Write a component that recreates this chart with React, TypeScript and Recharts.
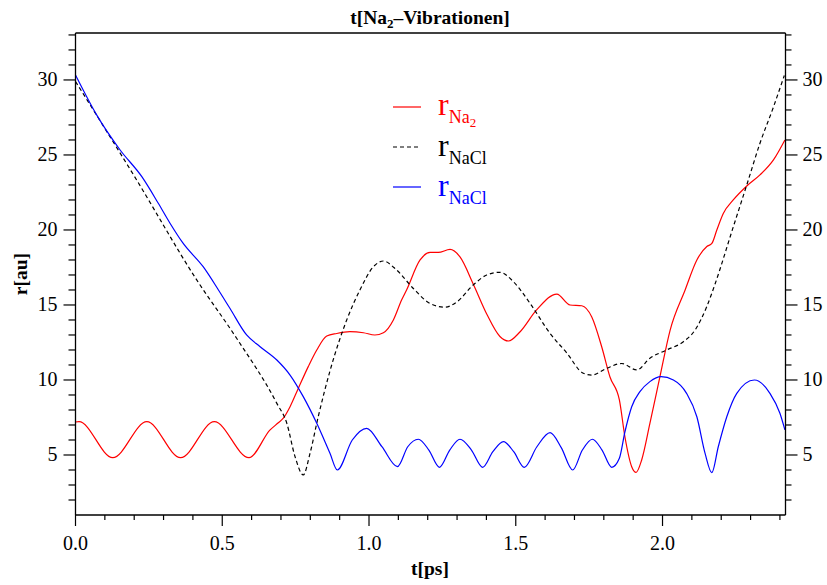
import { Line, LineChart, XAxis, YAxis } from 'recharts'

// r(Na2) — red solid
const na2T = [
  0, 0.012, 0.127, 0.243, 0.358, 0.473, 0.591, 0.663, 0.691, 0.708, 0.731, 0.759, 0.793, 0.822, 0.856,
  0.89, 0.935, 0.981, 1.02, 1.049, 1.083, 1.111, 1.128, 1.174, 1.208, 1.236, 1.276, 1.31, 1.355, 1.401,
  1.446, 1.475, 1.514, 1.571, 1.64, 1.685, 1.725, 1.759, 1.793, 1.821, 1.853, 1.872, 1.895, 1.91, 1.929,
  1.957, 1.991, 2.026, 2.077, 2.117, 2.151, 2.168, 2.185, 2.207, 2.241, 2.287, 2.332, 2.378, 2.417,
]
const na2R = [
  7.2, 7.22, 4.82, 7.22, 4.82, 7.22, 4.82, 6.67, 7.15, 7.45, 8.22, 9.44, 10.89, 12.0, 12.93,
  13.1, 13.22, 13.15, 13.0, 13.15, 14.0, 15.33, 16.0, 18.0, 18.5, 18.5, 18.7, 18.2, 16.4, 14.4,
  12.9, 12.6, 13.2, 14.67, 15.73, 15.0, 14.95, 14.2, 12.2, 10.2, 8.67, 6.2, 4.22, 3.84, 4.67,
  7.1, 10.2, 13.33, 16.0, 18.0, 18.9, 19.1, 20.0, 21.1, 22.0, 22.93, 23.67, 24.67, 26.0,
]

// r(NaCl) — black dashed
const naclDashT = [
  0, 0.2, 0.413, 0.549, 0.686, 0.72, 0.748, 0.776, 0.799, 0.827, 0.867, 0.924, 0.969, 1.015, 1.049,
  1.094, 1.151, 1.208, 1.259, 1.299, 1.355, 1.401, 1.446, 1.492, 1.549, 1.617, 1.674, 1.73, 1.759,
  1.81, 1.861, 1.912, 1.957, 2.014, 2.071, 2.111, 2.151, 2.179, 2.241, 2.287, 2.332, 2.378, 2.415,
]
const naclDashR = [
  29.9, 23.6, 16.67, 12.78, 8.44, 7.11, 4.89, 3.67, 5.11, 7.55, 10.6, 14.0, 16.0, 17.55, 17.93,
  17.33, 16.1, 15.1, 14.85, 15.2, 16.33, 17.0, 17.18, 16.55, 15.1, 13.1, 11.8, 10.45, 10.33,
  10.78, 11.1, 10.67, 11.45, 12.0, 12.55, 13.33, 14.9, 16.4, 20.2, 23.0, 25.78, 28.2, 30.3,
]

// r(NaCl) — blue solid
const naclT = [
  0, 0.072, 0.152, 0.226, 0.282, 0.322, 0.367, 0.435, 0.487, 0.526, 0.583, 0.629, 0.686, 0.731, 0.776,
  0.822, 0.867, 0.892, 0.943, 0.992, 1.044, 1.097, 1.132, 1.168, 1.204, 1.24, 1.275, 1.31, 1.349, 1.387,
  1.422, 1.458, 1.493, 1.529, 1.572, 1.617, 1.655, 1.694, 1.727, 1.761, 1.794, 1.827, 1.853, 1.872,
  1.895, 1.923, 1.957, 1.995, 2.037, 2.082, 2.117, 2.145, 2.168, 2.19, 2.219, 2.253, 2.313, 2.366,
  2.4, 2.417,
]
const naclR = [
  30.33, 27.67, 25.33, 23.55, 21.78, 20.45, 19.1, 17.55, 16.0, 14.78, 13.0, 12.22, 11.33, 10.33, 8.89,
  7.11, 5.11, 4.0, 6.0, 6.78, 5.55, 4.22, 5.55, 6.05, 5.33, 4.18, 5.33, 6.05, 5.33, 4.18,
  5.22, 5.89, 5.22, 4.18, 5.55, 6.49, 5.49, 4.0, 5.33, 6.05, 5.33, 4.18, 4.78, 6.55,
  8.22, 9.22, 9.89, 10.22, 10.0, 9.11, 7.55, 5.11, 3.82, 5.55, 7.55, 9.11, 10.0, 9.11,
  7.78, 6.67,
]

// axis ticks
const psTicks = [
  0, 0.1, 0.2, 0.3, 0.4, 0.5, 0.6, 0.7, 0.8, 0.9, 1, 1.1, 1.2, 1.3, 1.4, 1.5, 1.6, 1.7, 1.8, 1.9, 2,
  2.1, 2.2, 2.3, 2.4,
]
const psMajor = [0, 0.5, 1, 1.5, 2]
const vibTicks = [
  0.5, 1, 1.5, 2, 2.5, 3, 3.5, 4, 4.5, 5, 5.5, 6, 6.5, 7, 7.5, 8, 8.5, 9, 9.5, 10,
]
const vibMajor = [2, 4, 6, 8, 10]
const rTicks = [
  2, 3, 4, 5, 6, 7, 8, 9, 10, 11, 12, 13, 14, 15, 16, 17, 18, 19, 20, 21, 22, 23, 24, 25, 26, 27,
  28, 29, 30, 31, 32, 33,
]
const rMajor = [5, 10, 15, 20, 25, 30]

const FONT = "'Liberation Serif', 'Times New Roman', serif"
const TITLE_SIZE = 19.5
const toPoints = (t: number[], r: number[]) => t.map((x, i) => ({ t: x, r: r[i] }))
const isMajor = (v: number, majors: number[]) => majors.some((m) => Math.abs(m - v) < 1e-6)

type Side = 'bottom' | 'top' | 'left' | 'right'

function makeTick(side: Side, majors: number[], fmt: (v: number) => string) {
  return (props: any) => {
    const { x, y, payload } = props
    const v = payload.value as number
    const major = isMajor(v, majors)
    const common = { stroke: '#000', strokeWidth: 1.2 }
    if (side === 'bottom' || side === 'top') {
      const len = major ? 11 : side === 'top' ? 6 : 5
      return (
        <g>
          <line x1={x} y1={y} x2={x} y2={y + len} {...common} />
          {major && (
            <text x={x} y={y + 35} textAnchor="middle" fontSize={20} fontFamily={FONT} fill="#000">
              {fmt(v)}
            </text>
          )}
        </g>
      )
    }
    const dir = side === 'left' ? -1 : 1
    const len = major ? 12 : side === 'left' ? 7 : 6
    return (
      <g>
        <line x1={x} y1={y} x2={x + dir * len} y2={y} {...common} />
        {major && (
          <text
            x={x + dir * (side === 'left' ? 18 : 17)}
            y={y + 6.5}
            textAnchor={side === 'left' ? 'end' : 'start'}
            fontSize={20}
            fontFamily={FONT}
            fill="#000"
          >
            {fmt(v)}
          </text>
        )}
      </g>
    )
  }
}

// drawn as an overlay so it doesn't steal height from the plot area
function LegendBox() {
  const rows = [
    { color: '#ff0000', dash: false, sub: 'Na', sub2: '2' },
    { color: '#000000', dash: true, sub: 'NaCl', sub2: '' },
    { color: '#0000ff', dash: false, sub: 'NaCl', sub2: '' },
  ]
  return (
    <div style={{ position: 'absolute', left: 393, top: 87, fontFamily: FONT }}>
      {rows.map((row, i) => (
        <div key={i} style={{ display: 'flex', alignItems: 'center', height: 40 }}>
          <svg width={28} height={4} style={{ marginRight: 17 }}>
            <line
              x1={0}
              y1={2}
              x2={28}
              y2={2}
              stroke={row.color}
              strokeWidth={1.2}
              strokeDasharray={row.dash ? '4 3' : undefined}
            />
          </svg>
          <span style={{ color: row.color, fontSize: 32, lineHeight: '32px' }}>
            r
            <span style={{ fontSize: 18, position: 'relative', top: 8 }}>
              {row.sub}
              {row.sub2 && (
                <span style={{ fontSize: 13, position: 'relative', top: 4 }}>{row.sub2}</span>
              )}
            </span>
          </span>
        </div>
      ))}
    </div>
  )
}

export default function App() {
  return (
    <div style={{ position: 'absolute', left: 0, top: 0, width: 827, height: 585, background: '#fff' }}>
      <LineChart width={827} height={585} margin={{ top: 20, right: 1.5, bottom: 20, left: 15.5 }}>
        <XAxis
          xAxisId="bottom"
          dataKey="t"
          type="number"
          orientation="bottom"
          domain={[0, 2.419]}
          allowDataOverflow
          ticks={psTicks}
          interval={0}
          height={50}
          tickSize={0}
          tickMargin={0}
          tickLine={false}
          axisLine={{ stroke: '#000', strokeWidth: 1.3 }}
          tick={makeTick('bottom', psMajor, (v) => v.toFixed(1))}
          label={{
            content: () => (
              <text x={430} y={575} textAnchor="middle" fontSize={TITLE_SIZE} fontWeight="bold" fontFamily={FONT}>
                t[ps]
              </text>
            ),
          }}
        />
        <XAxis
          xAxisId="top"
          type="number"
          orientation="top"
          domain={[0, 10.275]}
          allowDataOverflow
          ticks={vibTicks}
          interval={0}
          height={13}
          tickSize={0}
          tickMargin={0}
          tickLine={false}
          axisLine={{ stroke: '#000', strokeWidth: 1.3 }}
          tick={makeTick('top', vibMajor, (v) => String(v))}
          label={{
            content: () => (
              <text x={430} y={24} textAnchor="middle" fontSize={TITLE_SIZE} fontWeight="bold" fontFamily={FONT}>
                t[Na
                <tspan dy={4} fontSize={13}>
                  2
                </tspan>
                <tspan dy={-4}>–Vibrationen]</tspan>
              </text>
            ),
          }}
        />
        <YAxis
          yAxisId="left"
          type="number"
          domain={[1, 33.13]}
          allowDataOverflow
          ticks={rTicks}
          interval={0}
          width={60}
          tickSize={0}
          tickMargin={0}
          tickLine={false}
          axisLine={{ stroke: '#000', strokeWidth: 1.3 }}
          tick={makeTick('left', rMajor, (v) => String(v))}
          label={{
            content: () => (
              <text
                x={27}
                y={274}
                textAnchor="middle"
                fontSize={TITLE_SIZE}
                fontWeight="bold"
                fontFamily={FONT}
                transform="rotate(-90 27 274)"
              >
                r[au]
              </text>
            ),
          }}
        />
        <YAxis
          yAxisId="right"
          orientation="right"
          type="number"
          domain={[1, 33.13]}
          allowDataOverflow
          ticks={rTicks}
          interval={0}
          width={40}
          tickSize={0}
          tickMargin={0}
          tickLine={false}
          axisLine={{ stroke: '#000', strokeWidth: 1.3 }}
          tick={makeTick('right', rMajor, (v) => String(v))}
        />
        <Line
          data={toPoints(na2T, na2R)}
          dataKey="r"
          xAxisId="bottom"
          yAxisId="left"
          type="monotone"
          stroke="#ff0000"
          strokeWidth={1.2}
          dot={false}
          isAnimationActive={false}
        />
        <Line
          data={toPoints(naclDashT, naclDashR)}
          dataKey="r"
          xAxisId="bottom"
          yAxisId="left"
          type="monotone"
          stroke="#000000"
          strokeWidth={1.2}
          strokeDasharray="4 3"
          dot={false}
          isAnimationActive={false}
        />
        <Line
          data={toPoints(naclT, naclR)}
          dataKey="r"
          xAxisId="bottom"
          yAxisId="left"
          type="monotone"
          stroke="#0000ff"
          strokeWidth={1.2}
          dot={false}
          isAnimationActive={false}
        />
      </LineChart>
      <LegendBox />
    </div>
  )
}
